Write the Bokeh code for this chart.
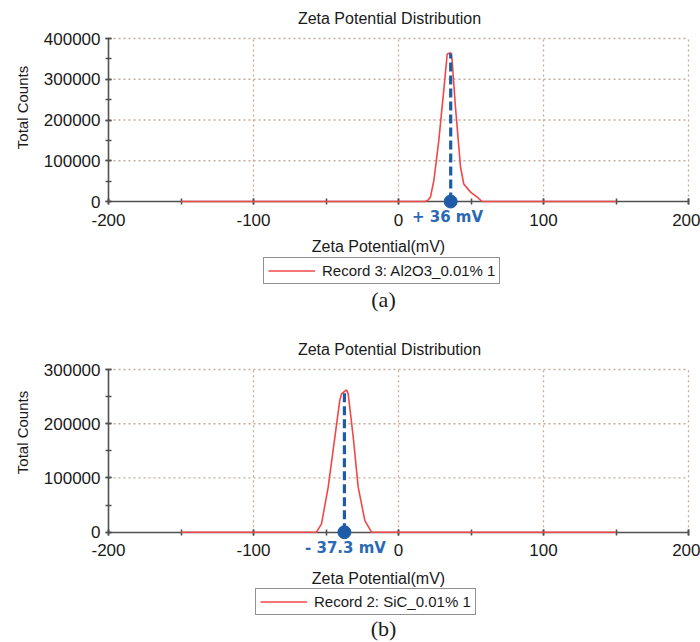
from bokeh.plotting import figure
from bokeh.models import (Range1d, SingleIntervalTicker, Label, Legend, LegendItem,
                          PrintfTickFormatter)
from bokeh.layouts import column
from bokeh.embed import file_html
from bokeh.resources import INLINE
import math

# ---------------- data ----------------
chart_title = "Zeta Potential Distribution"
x_label = "Zeta Potential(mV)"
y_label = "Total Counts"
x_min, x_max = -200, 200
x_grid = [-100, 0, 100, 200]

# (a) Al2O3
a_potential = [-150, 18.6, 20.5, 22, 24.4, 27.8, 31.2, 33.6, 36, 37, 39.3, 42.8, 45, 49.7, 54.3, 57.7, 150]
a_counts = [0, 0, 4000, 10500, 51500, 150000, 272000, 362000, 365000, 346000, 231000, 84000, 43000, 23000, 10500, 0, 0]
a_mean = 36
a_mean_count = 363000
a_name = "Record 3: Al2O3_0.01% 1"
a_tag = "+ 36 mV"
a_caption = "(a)"
a_ymax = 400000
a_y_grid = [100000, 200000, 300000, 400000]

# (b) SiC
b_potential = [-150, -56.6, -53.1, -48.5, -43.9, -40.5, -39.3, -35.9, -34.7, -31.2, -27.8, -23.2, -18.6, 150]
b_counts = [0, 0, 15500, 83000, 175000, 243000, 255000, 262500, 255000, 175000, 83000, 21500, 0, 0]
b_mean = -37.3
b_mean_count = 262000
b_name = "Record 2: SiC_0.01% 1"
b_tag = "- 37.3 mV"
b_caption = "(b)"
b_ymax = 300000
b_y_grid = [100000, 200000, 300000]

# ---------------- styling ----------------
RED = "#f04848"
BLUE = "#1f5ca8"
TAG_BLUE = "#2a6ab5"
AXIS = "#505050"
GRID = "#c4ac9c"
FONT = "Liberation Sans"

FIG_W = 700
XL_IMG = 108       # pixel x of x = -200
XR_IMG = 688       # pixel x of x = 200


def make_panel(potential, counts, mean, mean_count, name, tag, caption, ymax, y_grid,
               fig_top_img, height, zero_img, top_img, pos):
    px_per_mv = (XR_IMG - XL_IMG) / (x_max - x_min)
    cnt_per_px = ymax / (zero_img - top_img)

    def xd(ix):
        return x_min + (ix - XL_IMG) / px_per_mv

    def yd(iy):
        return (zero_img - iy) * cnt_per_px

    x0 = xd(0)
    x1 = xd(FIG_W)
    y1 = yd(fig_top_img)
    y0 = yd(fig_top_img + height)

    p = figure(width=FIG_W, height=height, output_backend="svg", toolbar_location=None,
               x_range=Range1d(x0, x1), y_range=Range1d(y0, y1),
               min_border=0, min_border_left=0, min_border_right=0,
               min_border_top=0, min_border_bottom=0)
    p.background_fill_color = "white"
    p.border_fill_color = "white"
    p.outline_line_color = None
    p.grid.visible = False

    # dotted grid inside the plot area
    p.segment(x0=x_grid, y0=[0] * len(x_grid), x1=x_grid, y1=[ymax] * len(x_grid),
              line_color=GRID, line_dash="2 3", line_width=1.3)
    p.segment(x0=[x_min] * len(y_grid), y0=y_grid, x1=[x_max] * len(y_grid), y1=y_grid,
              line_color=GRID, line_dash="2 3", line_width=1.3)

    # axes placed at the data origin of the plot area
    p.xaxis.ticker = SingleIntervalTicker(interval=100, num_minor_ticks=2)
    p.yaxis.ticker = SingleIntervalTicker(interval=100000, num_minor_ticks=2)
    p.xaxis.formatter = PrintfTickFormatter(format="%d")
    p.yaxis.formatter = PrintfTickFormatter(format="%d")
    p.xaxis.fixed_location = 0
    p.yaxis.fixed_location = x_min
    p.xaxis.bounds = (x_min, x_max)
    p.yaxis.bounds = (0, ymax)
    for ax in (p.xaxis, p.yaxis):
        ax.axis_line_color = AXIS
        ax.axis_line_width = 1.6
        ax.major_tick_line_color = AXIS
        ax.minor_tick_line_color = AXIS
        ax.major_tick_line_width = 1.6
        ax.minor_tick_line_width = 1.6
        ax.major_tick_in = 3
        ax.major_tick_out = 3
        ax.minor_tick_in = 3
        ax.minor_tick_out = 3
        ax.major_label_text_font = FONT
        ax.major_label_text_font_size = "17px"
        ax.major_label_text_color = "#1a1a1a"
    p.xaxis.major_label_standoff = 9
    p.yaxis.major_label_standoff = 5

    # data
    r = p.line(potential, counts, line_color=RED, line_width=1.6, level="overlay")
    p.line([mean, mean], [0, mean_count], line_color=BLUE, line_width=3.2,
           line_dash="9 4", level="overlay")
    p.scatter([mean], [0], size=13, color=BLUE, level="overlay")

    # texts
    def lab(text, ix, iy, size, font=FONT, style="normal", color="#1a1a1a", angle=0.0):
        p.add_layout(Label(x=xd(ix), y=yd(iy), text=text, text_align="center",
                           text_baseline="middle", text_font=font,
                           text_font_size=size, text_font_style=style,
                           text_color=color, angle=angle))

    lab(chart_title, 389, pos["title_y"], "16px")
    lab(y_label, 22, pos["ylab_y"], "15px", angle=math.pi / 2)
    lab(x_label, 378, pos["xlab_y"], "16px")
    lab(tag, pos["tag_x"], pos["tag_y"], "15px", font="DejaVu Sans", style="bold", color=TAG_BLUE)
    lab(caption, 383, pos["cap_y"], "22px", font="Liberation Serif")

    legend = Legend(items=[LegendItem(label=name, renderers=[r])],
                    location=(pos["leg_x"], fig_top_img + height - pos["leg_bottom"]),
                    margin=0, padding=4, glyph_width=47, glyph_height=15, label_height=15,
                    label_standoff=7, label_text_font=FONT, label_text_font_size="15px",
                    label_text_color="#1a1a1a",
                    border_line_color="#222222", border_line_width=1,
                    background_fill_color="white", background_fill_alpha=1.0)
    p.add_layout(legend)
    return p


pa = make_panel(a_potential, a_counts, a_mean, a_mean_count, a_name, a_tag, a_caption, a_ymax,
                a_y_grid, fig_top_img=0, height=330, zero_img=201, top_img=38,
                pos=dict(title_y=18, ylab_y=107, xlab_y=246, tag_x=447, tag_y=216,
                         cap_y=299, leg_x=263, leg_bottom=284))
pb = make_panel(b_potential, b_counts, b_mean, b_mean_count, b_name, b_tag, b_caption, b_ymax,
                b_y_grid, fig_top_img=330, height=312, zero_img=531.7, top_img=369,
                pos=dict(title_y=349, ylab_y=432, xlab_y=578, tag_x=345, tag_y=547,
                         cap_y=628, leg_x=255, leg_bottom=615))

layout = column(pa, pb, spacing=0)
open("out.html", "w").write(file_html(layout, INLINE))
